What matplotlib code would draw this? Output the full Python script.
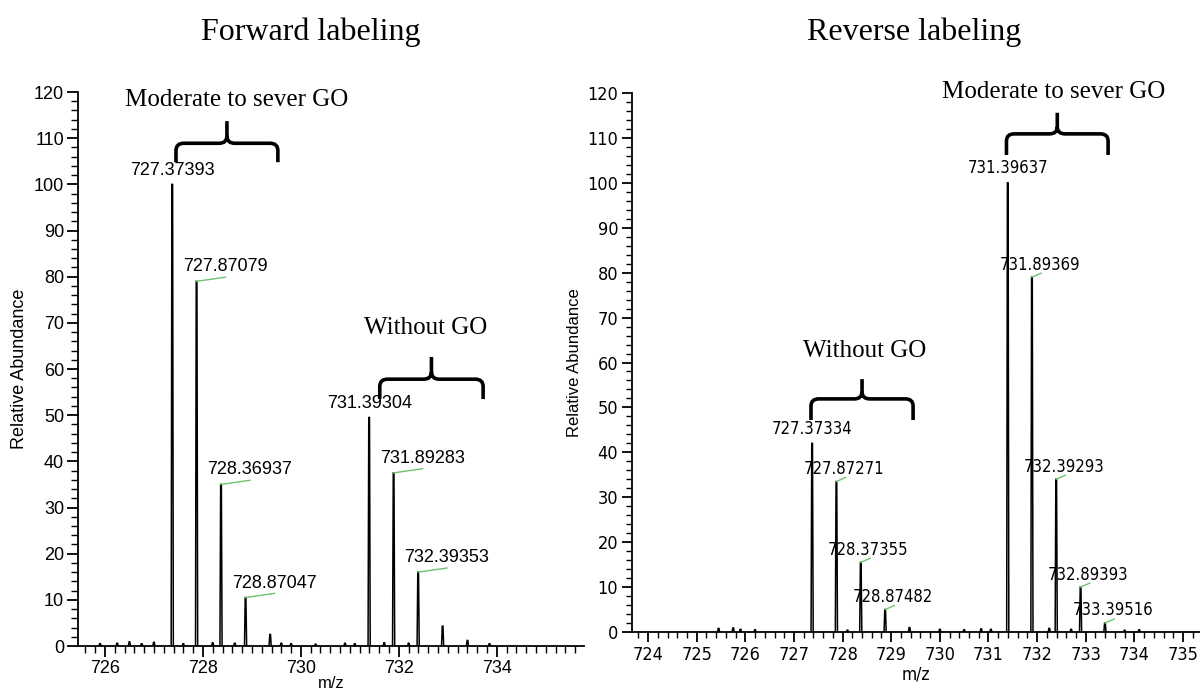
import matplotlib
matplotlib.use('Agg')
import matplotlib.pyplot as plt
from matplotlib.path import Path
from matplotlib.patches import PathPatch
from matplotlib.ticker import MultipleLocator
from matplotlib import font_manager

# forward labeling peaks (m/z, relative abundance)
fwd_mz = [727.37393, 727.87079, 728.36937, 728.87047, 729.372, 731.39304, 731.89283, 732.39353, 732.893]
fwd_int = [100, 79, 35, 10.5, 2.5, 49.5, 37.5, 16, 4.3]
fwd_labels = ['727.37393', '727.87079', '728.36937', '728.87047', '', '731.39304', '731.89283', '732.39353', '']
fwd_centered = [True, False, False, False, False, True, False, False, False]
fwd_noise_mz = [725.9, 726.25, 726.5, 726.75, 727.0, 727.6, 728.2, 728.65, 729.6, 729.8, 730.3, 730.9, 731.1, 731.7, 732.2, 733.4, 733.85]
fwd_noise_int = [0.5, 0.6, 0.9, 0.5, 0.8, 0.5, 0.7, 0.6, 0.6, 0.5, 0.4, 0.6, 0.5, 0.7, 0.6, 1.2, 0.5]

# reverse labeling peaks
rev_mz = [727.37334, 727.87271, 728.37355, 728.87482, 729.375, 731.39637, 731.89369, 732.39293, 732.89393, 733.39516]
rev_int = [42, 33.5, 15.5, 5, 1.0, 100, 79, 34, 10, 2]
rev_labels = ['727.37334', '727.87271', '728.37355', '728.87482', '', '731.39637', '731.89369', '732.39293', '732.89393', '733.39516']
rev_centered = [True, False, False, False, False, True, False, False, False, False]
rev_noise_mz = [725.45, 725.75, 725.9, 726.2, 728.1, 730.0, 730.5, 730.85, 731.05, 732.25, 732.7, 733.8, 734.1]
rev_noise_int = [0.8, 0.9, 0.6, 0.5, 0.4, 0.6, 0.5, 0.7, 0.6, 0.8, 0.6, 0.4, 0.5]

# brace annotations: (x_left, x_right, y_bar, y_arm, y_tip, text, text_x, text_y)
fwd_braces = [(727.45, 729.53, 108.9, 104.8, 113.7, 'Moderate to sever GO', 726.41, 117.0),
              (731.61, 733.72, 57.8, 53.5, 62.6, 'Without GO', 731.29, 67.6)]
rev_braces = [(731.37, 733.46, 110.9, 106.2, 115.6, 'Moderate to sever GO', 730.05, 118.9),
              (727.35, 729.45, 51.9, 47.2, 56.3, 'Without GO', 727.19, 61.2)]

sans = 'Liberation Sans'
serif = 'Liberation Serif'
green = '#6cc46c'

# look for a narrow sans face for the right-hand spectrum (instrument software uses one)
narrow_file = None
stretch_ok = ('condensed', 'semi-condensed', 'extra-condensed', 'ultra-condensed')
for pref in ['Liberation Sans Narrow', 'DejaVu Sans', 'Roboto', 'Roboto Condensed', 'Open Sans', 'Noto Sans', 'Lato', 'Inter']:
    for f in font_manager.fontManager.ttflist:
        st = f.stretch
        cond = (st in stretch_ok) or (isinstance(st, (int, float)) and st < 500) or ('Narrow' in f.name) or ('Condensed' in f.name)
        if f.name.startswith(pref) and cond and f.style == 'normal' and f.weight in (400, 'normal', 'regular'):
            narrow_file = f.fname
            break
    if narrow_file:
        break


def nfont(size):
    if narrow_file:
        return font_manager.FontProperties(fname=narrow_file, size=size)
    return font_manager.FontProperties(family=sans, size=size * 0.9)


def draw_brace(ax, x0, x1, yb, ya, yt, rx, ry):
    xc = (x0 + x1) / 2
    verts = [(x0, ya), (x0, yb - ry), (x0, yb), (x0 + rx, yb), (xc - rx, yb), (xc, yb), (xc, yb + ry), (xc, yt),
             (xc, yb + ry), (xc, yb), (xc + rx, yb), (x1 - rx, yb), (x1, yb), (x1, yb - ry), (x1, ya)]
    codes = [Path.MOVETO, Path.LINETO, Path.CURVE3, Path.CURVE3, Path.LINETO, Path.CURVE3, Path.CURVE3, Path.LINETO,
             Path.MOVETO, Path.CURVE3, Path.CURVE3, Path.LINETO, Path.CURVE3, Path.CURVE3, Path.LINETO]
    ax.add_patch(PathPatch(Path(verts, codes), fill=False, lw=2.6, ec='black', clip_on=False, capstyle='butt'))


def draw_spectrum(ax, mz, inten, noise_mz, noise_int, w):
    for x, h in zip(list(mz) + list(noise_mz), list(inten) + list(noise_int)):
        ax.plot([x - w, x - w / 3, x + w / 3, x + w], [0, h, h, 0], color='black', lw=1.1, solid_joinstyle='miter')


fig = plt.figure(figsize=(12, 6.93), dpi=100)

# ---------- forward ----------
ax1 = fig.add_axes([0.065, 0.0678, 0.4217, 0.7994])
draw_spectrum(ax1, fwd_mz, fwd_int, fwd_noise_mz, fwd_noise_int, 0.022)
ax1.set_xlim(725.45, 735.78)
ax1.set_ylim(0, 120)
ax1.xaxis.set_major_locator(MultipleLocator(2))
ax1.xaxis.set_minor_locator(MultipleLocator(0.2))
ax1.yaxis.set_major_locator(MultipleLocator(10))
ax1.yaxis.set_minor_locator(MultipleLocator(2))
ax1.tick_params(which='major', length=8, width=1.3, labelsize=13, pad=2)
ax1.tick_params(which='minor', length=5, width=1.0)
for lab in ax1.get_xticklabels() + ax1.get_yticklabels():
    lab.set_fontfamily(sans)
ax1.set_xlabel('m/z', fontfamily=sans, fontsize=12, labelpad=-1)
ax1.set_ylabel('Relative Abundance', fontfamily=sans, fontsize=13, labelpad=4)

for x, h, lab, cen in zip(fwd_mz, fwd_int, fwd_labels, fwd_centered):
    if not lab:
        continue
    if cen:
        ax1.text(x, h + 1.2, lab, ha='center', va='bottom', fontfamily=sans, fontsize=13)
    else:
        ax1.plot([x, x + 0.59], [h, h + 0.9], color=green, lw=1.0)
        ax1.text(x + 0.59, h + 1.3, lab, ha='center', va='bottom', fontfamily=sans, fontsize=13)

for x0, x1, yb, ya, yt, txt, tx, ty in fwd_braces:
    draw_brace(ax1, x0, x1, yb, ya, yt, 0.16, 1.6)
    ax1.text(tx, ty, txt, ha='left', va='baseline', fontfamily=serif, fontsize=18)

fig.text(311 / 1200, 1 - 40 / 693, 'Forward labeling', ha='center', va='baseline', fontfamily=serif, fontsize=23)

# ---------- reverse ----------
ax2 = fig.add_axes([0.5267, 0.088, 0.4733, 0.7778])
draw_spectrum(ax2, rev_mz, rev_int, rev_noise_mz, rev_noise_int, 0.022)
ax2.set_xlim(723.67, 735.35)
ax2.set_ylim(0, 120)
ax2.xaxis.set_major_locator(MultipleLocator(1))
ax2.xaxis.set_minor_locator(MultipleLocator(0.2))
ax2.yaxis.set_major_locator(MultipleLocator(10))
ax2.yaxis.set_minor_locator(MultipleLocator(2))
ax2.tick_params(which='major', length=7, width=1.3, pad=3)
ax2.tick_params(which='minor', length=4, width=1.0)
for lab in ax2.get_xticklabels() + ax2.get_yticklabels():
    lab.set_fontproperties(nfont(13))
ax2.set_xlabel('m/z', fontproperties=nfont(12.5), labelpad=1)
ax2.set_ylabel('Relative Abundance', fontfamily=sans, fontsize=12, labelpad=4)

for x, h, lab, cen in zip(rev_mz, rev_int, rev_labels, rev_centered):
    if not lab:
        continue
    if cen:
        ax2.text(x, h + 1.2, lab, ha='center', va='bottom', fontproperties=nfont(12))
    else:
        ax2.plot([x, x + 0.19], [h, h + 0.9], color=green, lw=1.0)
        ax2.text(x + 0.16, h + 0.8, lab, ha='center', va='bottom', fontproperties=nfont(12))

for x0, x1, yb, ya, yt, txt, tx, ty in rev_braces:
    draw_brace(ax2, x0, x1, yb, ya, yt, 0.16, 1.6)
    ax2.text(tx, ty, txt, ha='left', va='baseline', fontfamily=serif, fontsize=18)

fig.text(914 / 1200, 1 - 40 / 693, 'Reverse labeling', ha='center', va='baseline', fontfamily=serif, fontsize=23)

for ax in (ax1, ax2):
    ax.spines['top'].set_visible(False)
    ax.spines['right'].set_visible(False)
    ax.spines['left'].set_linewidth(1.3)
    ax.spines['bottom'].set_linewidth(1.3)

fig.savefig('out.png', dpi=100)
